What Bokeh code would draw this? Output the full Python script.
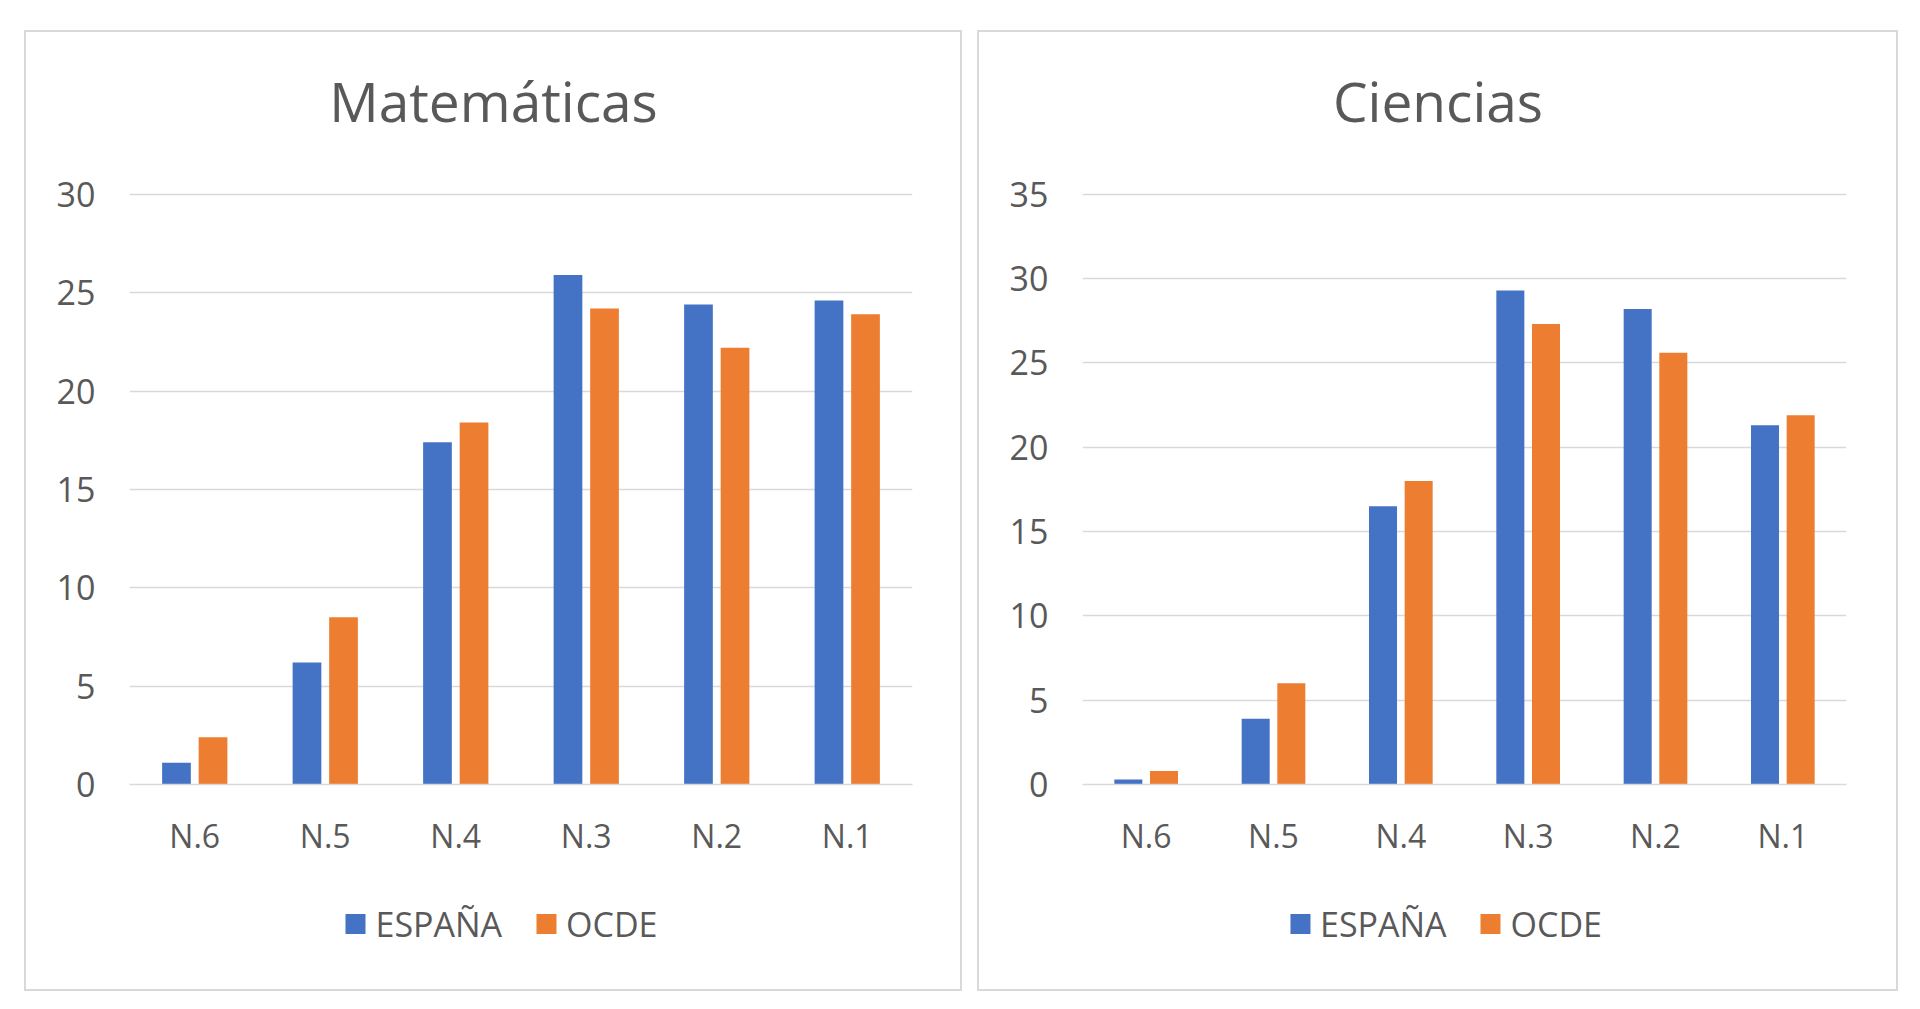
from bokeh.plotting import figure
from bokeh.models import (ColumnDataSource, FactorRange, Range1d, FixedTicker, Legend,
                          LegendItem, Label)
from bokeh.transform import dodge
from bokeh.layouts import row, column
from bokeh.embed import file_html
from bokeh.resources import INLINE

categories = ["N.6", "N.5", "N.4", "N.3", "N.2", "N.1"]
series_names = ["ESPAÑA", "OCDE"]
mat_espana = [1.1, 6.2, 17.4, 25.9, 24.4, 24.6]
mat_ocde = [2.4, 8.5, 18.4, 24.2, 22.2, 23.9]
cie_espana = [0.3, 3.9, 16.5, 29.3, 28.2, 21.3]
cie_ocde = [0.8, 6.0, 18.0, 27.3, 25.6, 21.9]
mat_ticks = [0, 5, 10, 15, 20, 25, 30]
cie_ticks = [0, 5, 10, 15, 20, 25, 30, 35]

BLUE = "#4472C4"
ORANGE = "#ED7D31"
GRID = "#D9D9D9"
TEXT = "#595959"
FONT = "Open Sans"


def blank_fig(width, height):
    f = figure(width=width, height=height, output_backend="svg", toolbar_location=None,
               tools="", x_axis_location=None, y_axis_location=None, min_border=0,
               x_range=Range1d(0, 1), y_range=Range1d(0, 1))
    f.outline_line_color = None
    f.grid.grid_line_color = None
    return f


def make_panel(title, esp, ocde, ticks, content_w, border_left, border_right, margin):
    # title strip
    pt = blank_fig(content_w, 130)
    pt.add_layout(Label(x=0.5, y=0.477, text=title, text_align="center",
                        text_baseline="middle", text_font=FONT, text_font_size="55px",
                        text_color=TEXT))

    # main chart
    src = ColumnDataSource(dict(cat=categories, esp=esp, ocde=ocde))
    p = figure(x_range=FactorRange(*categories, range_padding=0),
               y_range=Range1d(0, ticks[-1] * 1.003),
               width=content_w, height=701, output_backend="svg",
               toolbar_location=None, tools="")
    p.min_border_left = border_left
    p.min_border_right = border_right
    p.min_border_top = 30
    p.min_border_bottom = 79
    p.outline_line_color = None
    p.vbar(x=dodge("cat", -0.14, range=p.x_range), top="esp", width=0.22,
           source=src, color=BLUE, line_color=None)
    p.vbar(x=dodge("cat", 0.14, range=p.x_range), top="ocde", width=0.22,
           source=src, color=ORANGE, line_color=None)
    p.xgrid.grid_line_color = None
    p.ygrid.grid_line_color = GRID
    p.ygrid.grid_line_width = 1.5
    p.yaxis.ticker = FixedTicker(ticks=ticks)
    p.yaxis.axis_line_color = None
    p.yaxis.major_tick_line_color = None
    p.yaxis.minor_tick_line_color = None
    p.yaxis.major_label_text_font = FONT
    p.yaxis.major_label_text_font_size = "34px"
    p.yaxis.major_label_text_color = TEXT
    p.yaxis.major_label_standoff = 28
    p.xaxis.axis_line_color = GRID
    p.xaxis.axis_line_width = 1.5
    p.xaxis.major_tick_line_color = None
    p.xaxis.minor_tick_line_color = None
    p.xaxis.major_label_text_font = FONT
    p.xaxis.major_label_text_font_size = "32px"
    p.xaxis.major_label_text_color = TEXT
    p.xaxis.major_label_standoff = 23

    # legend strip
    pl = blank_fig(content_w, 126)
    pl.min_border_left = 14
    pl.min_border_bottom = 5
    d1 = pl.vbar(x=[10], top=[1], width=1, color=BLUE, line_color=None)
    d2 = pl.vbar(x=[10], top=[1], width=1, color=ORANGE, line_color=None)
    leg = Legend(items=[LegendItem(label=series_names[0], renderers=[d1]),
                        LegendItem(label=series_names[1], renderers=[d2])],
                 orientation="horizontal", location="center")
    leg.label_text_font = FONT
    leg.label_text_font_size = "34px"
    leg.label_text_color = TEXT
    leg.glyph_width = 25
    leg.glyph_height = 25
    leg.label_standoff = 8
    leg.spacing = 31
    leg.border_line_color = None
    leg.background_fill_alpha = 0
    leg.margin = 0
    pl.add_layout(leg, "center")

    c = column(row(pt), p, row(pl), spacing=0)
    c.margin = margin
    c.styles = {"border": "2px solid #D9D9D9"}
    return c


c1 = make_panel("Matemáticas", mat_espana, mat_ocde, mat_ticks, 934, 103, 48, (30, 0, 0, 24))
c2 = make_panel("Ciencias", cie_espana, cie_ocde, cie_ticks, 917, 103, 50, (30, 0, 0, 15))

layout = row(c1, c2)
open("out.html", "w").write(file_html(layout, INLINE))
